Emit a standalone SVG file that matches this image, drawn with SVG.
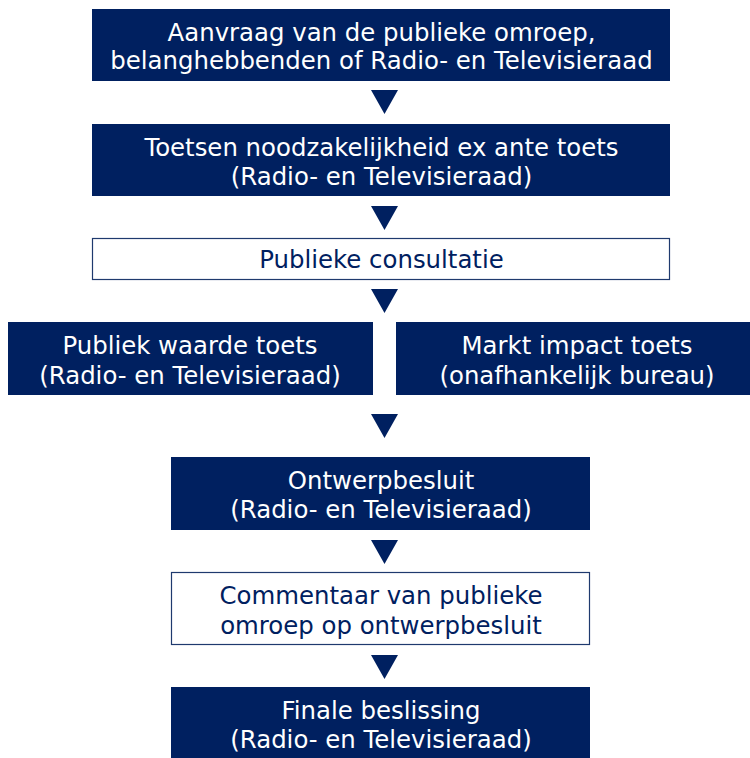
<svg xmlns="http://www.w3.org/2000/svg" width="750" height="758" viewBox="0 0 750 758">
<style>
.dark{fill:#002060}
.light{fill:#ffffff;stroke:#1f3a6e;stroke-width:1.2}
text{font-family:"DejaVu Sans","Verdana",sans-serif;font-size:24.4px;text-anchor:middle}
.tw{fill:#ffffff}
.td{fill:#002060}
.arr{fill:#002060}
</style>
<rect width="750" height="758" fill="#ffffff"/>
<g id="connectors">
<polygon class="arr" points="371,90 398,90 384.5,114"/>
<polygon class="arr" points="371,206 398,206 384.5,230"/>
<polygon class="arr" points="371,289 398,289 384.5,313"/>
<polygon class="arr" points="371,414 398,414 384.5,438"/>
<polygon class="arr" points="371,540 398,540 384.5,564"/>
<polygon class="arr" points="371,655 398,655 384.5,679"/>
</g>
<g id="n1">
<rect class="dark" x="92" y="9" width="578" height="72"/>
<text class="tw" x="381.5" y="41">Aanvraag van de publieke omroep,</text>
<text class="tw" x="381.5" y="69">belanghebbenden of Radio- en Televisieraad</text>
</g>
<g id="n2">
<rect class="dark" x="92" y="124" width="578" height="72"/>
<text class="tw" x="381.5" y="156">Toetsen noodzakelijkheid ex ante toets</text>
<text class="tw" x="381.5" y="185">(Radio- en Televisieraad)</text>
</g>
<g id="n3">
<rect class="light" x="92.5" y="238.5" width="577" height="41"/>
<text class="td" x="381.5" y="268">Publieke consultatie</text>
</g>
<g id="n4a">
<rect class="dark" x="8" y="322" width="365" height="73"/>
<text class="tw" x="190" y="354">Publiek waarde toets</text>
<text class="tw" x="190" y="384">(Radio- en Televisieraad)</text>
</g>
<g id="n4b">
<rect class="dark" x="396" y="322" width="354" height="73"/>
<text class="tw" x="577" y="354">Markt impact toets</text>
<text class="tw" x="577" y="384">(onafhankelijk bureau)</text>
</g>
<g id="n5">
<rect class="dark" x="171" y="457" width="419" height="73"/>
<text class="tw" x="381" y="489">Ontwerpbesluit</text>
<text class="tw" x="381" y="518">(Radio- en Televisieraad)</text>
</g>
<g id="n6">
<rect class="light" x="171.5" y="572.5" width="418" height="72"/>
<text class="td" x="381" y="604">Commentaar van publieke</text>
<text class="td" x="381" y="634">omroep op ontwerpbesluit</text>
</g>
<g id="n7">
<rect class="dark" x="171" y="687" width="419" height="71"/>
<text class="tw" x="381" y="719">Finale beslissing</text>
<text class="tw" x="381" y="748">(Radio- en Televisieraad)</text>
</g>
</svg>
